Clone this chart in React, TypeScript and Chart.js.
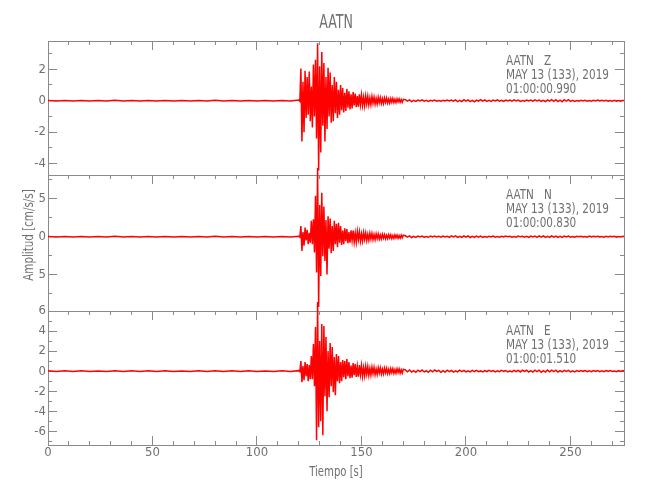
import React, { useEffect, useRef } from "react";
import { Chart, registerables } from "chart.js";

Chart.register(...registerables);

// ---------------- data ----------------
const STATION = "AATN";
const COMPONENTS = ["Z", "N", "E"];
const EVENT_DATE = "MAY 13 (133), 2019";
const START_TIMES = ["01:00:00.990", "01:00:00.830", "01:00:01.510"];
const X_TITLE = "Tiempo [s]";
const Y_TITLE = "Amplitud [cm/s/s]";

const X_RANGE = [0, 275.6];
const X_TICK_VALUES = [0, 50, 100, 150, 200, 250];
const X_TICK_LABELS = ["0", "50", "100", "150", "200", "250"];
const X_MAJOR_STEP = 50;
const X_MINOR_STEP = 10;

const Y_RANGES = [
  [-4.73, 3.8],
  [-9.83, 8.16],
  [-7.37, 6.0],
];
const Y_MAJOR_STEPS = [2, 5, 2];
const Y_MINOR_STEPS = [1, 2.5, 1];
const Z_TICK_VALUES = [-4, -2, 0, 2];
const Z_TICK_LABELS = ["-4", "-2", "0", "2"];
const N_TICK_VALUES = [-5, 0, 5];
const N_TICK_LABELS = ["5", "0", "5"];
const E_TICK_VALUES = [-6, -4, -2, 0, 2, 4, 6];
const E_TICK_LABELS = ["-6", "-4", "-2", "0", "2", "4", "6"];

// sampling grids (seconds)
const PRE_T0 = 0;
const PRE_DT = 4;
const ACTIVE_T0 = 120;
const ACTIVE_DT = 0.5;
const CODA_T0 = 171;
const CODA_DT = 1;

// pre-event noise (t = 0..116, every 4 s)
const Z_PRE = [0.02, -0.02, 0.02, -0.015, 0.02, -0.02, 0.015, -0.02, 0.025, -0.02, 0.02, -0.015, 0.02, -0.025, 0.02, -0.02, 0.015, -0.02, 0.02, -0.02, 0.025, -0.02, 0.02, -0.015, 0.02, -0.02, 0.015, -0.02, 0.02, -0.02];
const N_PRE = [0.04, -0.04, 0.04, -0.03, 0.04, -0.04, 0.03, -0.04, 0.05, -0.04, 0.04, -0.03, 0.04, -0.05, 0.04, -0.04, 0.03, -0.04, 0.04, -0.04, 0.05, -0.04, 0.04, -0.03, 0.04, -0.04, 0.03, -0.04, 0.04, -0.04];
const E_PRE = [0.03, -0.03, 0.03, -0.025, 0.03, -0.03, 0.025, -0.03, 0.035, -0.03, 0.03, -0.025, 0.03, -0.035, 0.03, -0.03, 0.025, -0.03, 0.03, -0.03, 0.035, -0.03, 0.03, -0.025, 0.03, -0.03, 0.025, -0.03, 0.03, -0.03];

// strong motion (t = 120..170, every 0.5 s), alternating peaks
const Z_ACTIVE = [
  0.04, -0.04, 2.05, -2.6, 1.2, -2.0, 1.9, -1.1, 1.5, -0.9,
  1.85, -1.3, 0.9, -1.7, 2.3, -1.0, 2.6, -2.4, 3.65, -4.45,
  2.2, -3.3, 3.1, -1.6, 2.4, -2.6, 1.5, -1.8, 2.1, -1.0,
  1.8, -1.4, 1.0, -1.3, 1.5, -0.8, 1.2, -1.1, 0.7, -0.9,
  1.0, -0.6, 0.8, -0.75, 0.5, -0.65, 0.75, -0.45, 0.6, -0.55,
  0.4, -0.5, 0.55, -0.3, 0.45, -0.42, 0.3, -0.38, 0.4, -0.25,
  0.35, -0.3, 0.22, -0.32, 0.3, -0.2, 0.28, -0.26, 0.18, -0.25,
  0.26, -0.16, 0.22, -0.22, 0.15, -0.2, 0.21, -0.14, 0.19, -0.18,
  0.12, -0.18, 0.17, -0.11, 0.16, -0.15, 0.1, -0.15, 0.14, -0.1,
  0.14, -0.12, 0.09, -0.12, 0.12, -0.08, 0.11, -0.1, 0.07, -0.1,
  0.09,
];
const N_ACTIVE = [
  0.06, -0.06, 1.4, -1.9, 0.6, -1.2, 1.2, -0.5, 0.9, -1.0,
  0.5, -0.8, 2.1, -1.0, 2.3, -2.1, 5.4, -4.75, 9.1, -9.3,
  4.2, -5.2, 5.8, -2.6, 4.0, -3.2, 2.2, -5.0, 2.7, -1.6,
  2.4, -2.2, 1.4, -1.9, 2.1, -1.0, 1.7, -1.4, 1.85, -0.8,
  1.4, -1.1, 0.8, -1.0, 1.1, -0.6, 1.0, -0.85, 0.6, -0.8,
  0.85, -0.5, 0.8, -0.7, 0.5, -0.68, 0.7, -0.4, 0.62, -0.58,
  0.4, -0.55, 0.55, -0.35, 0.5, -0.48, 0.32, -0.45, 0.45, -0.3,
  0.43, -0.4, 0.28, -0.38, 0.37, -0.25, 0.35, -0.33, 0.22, -0.3,
  0.3, -0.2, 0.28, -0.27, 0.18, -0.26, 0.26, -0.17, 0.25, -0.24,
  0.16, -0.23, 0.23, -0.15, 0.22, -0.21, 0.14, -0.2, 0.2, -0.14,
  0.19,
];
const E_ACTIVE = [
  0.05, -0.05, 1.0, -1.1, 0.5, -0.9, 0.9, -0.5, 0.7, -1.0,
  0.6, -0.8, 1.5, -0.8, 2.7, -1.5, 4.4, -6.9, 6.9, -5.6,
  3.0, -5.0, 4.7, -6.4, 4.5, -2.5, 3.4, -4.0, 2.0, -2.6,
  2.8, -1.5, 2.4, -2.1, 1.4, -2.4, 1.7, -1.0, 1.5, -1.2,
  0.9, -1.0, 1.1, -0.6, 1.0, -0.8, 1.2, -0.5, 0.9, -0.7,
  0.55, -0.65, 0.8, -0.4, 0.7, -0.58, 0.45, -0.55, 0.6, -0.35,
  0.55, -0.5, 0.35, -0.45, 0.48, -0.3, 0.45, -0.4, 0.28, -0.38,
  0.4, -0.24, 0.38, -0.34, 0.22, -0.32, 0.34, -0.2, 0.32, -0.28,
  0.2, -0.27, 0.29, -0.17, 0.28, -0.25, 0.17, -0.24, 0.26, -0.15,
  0.25, -0.22, 0.15, -0.22, 0.23, -0.14, 0.22, -0.2, 0.13, -0.2,
  0.2,
];

// coda (t = 171..276, every 1 s)
const Z_CODA = [
  0.07, -0.03, 0.05, -0.06, 0.02, -0.05, 0.04, -0.02, 0.05, -0.03,
  0.02, -0.04, 0.03, -0.01, 0.04, -0.03, 0.015, -0.035, 0.03, -0.02,
  0.035, -0.015, 0.04, -0.03, 0.05, -0.06, 0.025, -0.05, 0.065, -0.03,
  0.05, -0.06, 0.02, -0.065, 0.04, -0.03, 0.06, -0.025, 0.05, -0.04,
  0.02, -0.04, 0.035, -0.015, 0.05, -0.03, 0.02, -0.05, 0.035, -0.02,
  0.04, -0.025, 0.05, -0.02, 0.035, -0.04, 0.015, -0.035, 0.04, -0.02,
  0.035, -0.03, 0.05, -0.02, 0.04, -0.05, 0.025, -0.05, 0.055, -0.03,
  0.06, -0.035, 0.065, -0.06, 0.03, -0.065, 0.06, -0.03, 0.06, -0.04,
  0.03, -0.04, 0.015, -0.035, 0.03, -0.015, 0.03, -0.03, 0.01, -0.03,
  0.03, -0.015, 0.035, -0.02, 0.03, -0.01, 0.03, -0.025, 0.015, -0.03,
  0.02, -0.035, 0.01, -0.03, 0.025, -0.02,
];
const N_CODA = [
  0.12, -0.06, 0.1, -0.11, 0.04, -0.09, 0.08, -0.03, 0.09, -0.06,
  0.03, -0.08, 0.07, -0.02, 0.08, -0.05, 0.04, -0.07, 0.08, -0.03,
  0.06, -0.09, 0.1, -0.04, 0.1, -0.1, 0.05, -0.1, 0.11, -0.06,
  0.1, -0.11, 0.04, -0.1, 0.09, -0.05, 0.09, -0.08, 0.03, -0.08,
  0.06, -0.03, 0.07, -0.06, 0.02, -0.07, 0.05, -0.04, 0.07, -0.02,
  0.06, -0.07, 0.03, -0.06, 0.07, -0.02, 0.05, -0.07, 0.04, -0.08,
  0.08, -0.04, 0.07, -0.09, 0.1, -0.05, 0.1, -0.1, 0.05, -0.1,
  0.1, -0.05, 0.09, -0.09, 0.04, -0.09, 0.08, -0.04, 0.08, -0.07,
  0.03, -0.07, 0.06, -0.02, 0.06, -0.05, 0.03, -0.06, 0.07, -0.03,
  0.05, -0.02, 0.06, -0.05, 0.02, -0.06, 0.05, -0.03, 0.06, -0.02,
  0.04, -0.06, 0.03, -0.05, 0.06, -0.03,
];
const E_CODA = [
  0.12, -0.07, 0.11, -0.1, 0.05, -0.11, 0.09, -0.04, 0.11, -0.08,
  0.04, -0.11, 0.1, -0.06, 0.11, -0.03, 0.08, -0.11, 0.05, -0.1,
  0.09, -0.04, 0.08, -0.1, 0.03, -0.08, 0.09, -0.05, 0.07, -0.08,
  0.03, -0.07, 0.08, -0.04, 0.07, -0.06, 0.02, -0.07, 0.06, -0.04,
  0.07, -0.02, 0.06, -0.07, 0.04, -0.06, 0.07, -0.02, 0.05, -0.07,
  0.03, -0.08, 0.08, -0.04, 0.07, -0.08, 0.09, -0.03, 0.09, -0.1,
  0.05, -0.09, 0.1, -0.05, 0.1, -0.11, 0.04, -0.1, 0.11, -0.06,
  0.1, -0.04, 0.09, -0.1, 0.05, -0.08, 0.08, -0.03, 0.07, -0.07,
  0.02, -0.07, 0.06, -0.04, 0.06, -0.02, 0.05, -0.06, 0.03, -0.06,
  0.06, -0.02, 0.05, -0.05, 0.03, -0.06, 0.05, -0.02, 0.06, -0.04,
  0.02, -0.05, 0.06, -0.03, 0.05, -0.04,
];

// ---------------- style / layout ----------------
const FONT = '"DejaVu Sans Condensed", "Liberation Sans Narrow", "Liberation Sans", sans-serif';
const TEXT_COLOR = "#707070";
const AXIS_COLOR = "#8a8a8a";
const TRACE_COLOR = "#ff0000";
const TICK_FONT_SIZE = 13;
const MAJOR_LEN = 9;
const MINOR_LEN = 4.5;
const W = 650;
const H = 500;
const PLOT_LEFT = 48;
const PLOT_RIGHT = 624;
const PANEL_TOP = [41, 175, 311];
const PANEL_BOTTOM = [175, 311, 445];
const BOTTOM_AXIS_H = 40;

type Pt = { x: number; y: number };

function buildTrace(pre: number[], active: number[], coda: number[]): Pt[] {
  const pts: Pt[] = [];
  pre.forEach((v, i) => pts.push({ x: PRE_T0 + i * PRE_DT, y: v }));
  active.forEach((v, i) => pts.push({ x: ACTIVE_T0 + i * ACTIVE_DT, y: v }));
  coda.forEach((v, i) => pts.push({ x: CODA_T0 + i * CODA_DT, y: v }));
  return pts;
}

const TRACES = [
  buildTrace(Z_PRE, Z_ACTIVE, Z_CODA),
  buildTrace(N_PRE, N_ACTIVE, N_CODA),
  buildTrace(E_PRE, E_ACTIVE, E_CODA),
];
const Y_TICKS: [number[], string[]][] = [
  [Z_TICK_VALUES, Z_TICK_LABELS],
  [N_TICK_VALUES, N_TICK_LABELS],
  [E_TICK_VALUES, E_TICK_LABELS],
];

function isMajor(v: number, step: number) {
  const r = v / step;
  return Math.abs(r - Math.round(r)) < 1e-6;
}

function gridTicks(min: number, max: number, step: number) {
  const out: { value: number }[] = [];
  const a = Math.ceil(min / step - 1e-9);
  const b = Math.floor(max / step + 1e-9);
  for (let k = a; k <= b; k++) out.push({ value: +(k * step).toFixed(6) });
  return out;
}

function dashFor(position: string, majorStep: number) {
  return (ctx: any) => {
    const v = ctx.tick ? ctx.tick.value : 0;
    if (isMajor(v, majorStep)) return [];
    if (position === "bottom" || position === "right") return [MINOR_LEN + 0.5, 100];
    return [0, MAJOR_LEN + 0.5 - MINOR_LEN, MINOR_LEN + 1, 100];
  };
}

function labelFrom(values: number[], labels: string[]) {
  return (v: any) => {
    const idx = values.findIndex((t) => Math.abs(t - Number(v)) < 1e-6);
    return idx >= 0 ? labels[idx] : "";
  };
}

function xScale(position: "top" | "bottom", size: number, withTicks: boolean, withLabels: boolean) {
  return {
    type: "linear",
    position,
    min: X_RANGE[0],
    max: X_RANGE[1],
    bounds: "data",
    offset: false,
    afterBuildTicks: (s: any) => {
      s.ticks = gridTicks(X_RANGE[0], X_RANGE[1], X_MINOR_STEP);
    },
    afterFit: (s: any) => {
      s.height = size;
    },
    ticks: {
      display: withLabels,
      autoSkip: false,
      maxRotation: 0,
      minRotation: 0,
      padding: 9.2,
      color: TEXT_COLOR,
      font: { family: FONT, size: TICK_FONT_SIZE },
      callback: labelFrom(X_TICK_VALUES, X_TICK_LABELS),
    },
    grid: {
      display: true,
      drawOnChartArea: false,
      drawTicks: withTicks,
      tickLength: -MAJOR_LEN,
      tickColor: AXIS_COLOR,
      tickWidth: 1,
      tickBorderDash: dashFor(position, X_MAJOR_STEP),
    },
    border: { display: true, color: AXIS_COLOR, width: 1 },
    title: { display: false },
  };
}

function yScale(i: number, position: "left" | "right") {
  const [vals, labs] = Y_TICKS[i];
  const [mn, mx] = Y_RANGES[i];
  return {
    type: "linear",
    position,
    min: mn,
    max: mx,
    bounds: "data",
    afterBuildTicks: (s: any) => {
      s.ticks = gridTicks(mn, mx, Y_MINOR_STEPS[i]);
    },
    afterFit: (s: any) => {
      s.width = position === "left" ? PLOT_LEFT : 0;
    },
    ticks: {
      display: position === "left",
      autoSkip: false,
      padding: 11,
      color: TEXT_COLOR,
      font: { family: FONT, size: TICK_FONT_SIZE },
      callback: labelFrom(vals, labs),
    },
    grid: {
      display: true,
      drawOnChartArea: false,
      drawTicks: true,
      tickLength: -MAJOR_LEN,
      tickColor: AXIS_COLOR,
      tickWidth: 1,
      tickBorderDash: dashFor(position, Y_MAJOR_STEPS[i]),
    },
    border: { display: true, color: AXIS_COLOR, width: 1 },
  };
}

function squeezedText(ctx: any, text: string, x: number, y: number, sx: number, align: string, rot = 0) {
  ctx.save();
  ctx.translate(x, y);
  if (rot) ctx.rotate(rot);
  ctx.scale(sx, 1);
  ctx.textAlign = align;
  ctx.fillText(text, 0, 0);
  ctx.restore();
}

function textPlugin(i: number) {
  return {
    id: "panelText" + i,
    afterDraw(chart: any) {
      const { ctx, chartArea } = chart;
      ctx.save();
      ctx.fillStyle = TEXT_COLOR;
      ctx.font = `14px ${FONT}`;
      ctx.textBaseline = "middle";
      const lines = [`${STATION}   ${COMPONENTS[i]}`, EVENT_DATE, START_TIMES[i]];
      lines.forEach((ln, k) =>
        squeezedText(ctx, ln, chartArea.right - 118, chartArea.top + 20.7 + 14 * k, 0.83, "left")
      );
      const cx = (chartArea.left + chartArea.right) / 2;
      if (i === 0) {
        ctx.font = `20px ${FONT}`;
        squeezedText(ctx, STATION, cx, 22.5, 0.7, "center");
      }
      if (i === 1) {
        ctx.font = `14px ${FONT}`;
        squeezedText(ctx, Y_TITLE, 29, 235, 0.82, "center", -Math.PI / 2);
      }
      if (i === 2) {
        ctx.font = `14px ${FONT}`;
        squeezedText(ctx, X_TITLE, cx, 472.5, 0.8, "center");
      }
      ctx.restore();
    },
  };
}

function makeConfig(i: number): any {
  const last = i === 2;
  const bottomH = last ? BOTTOM_AXIS_H : 0;
  return {
    type: "line",
    data: {
      datasets: [
        {
          data: TRACES[i],
          borderColor: TRACE_COLOR,
          borderWidth: 1.5,
          pointRadius: 0,
          pointHoverRadius: 0,
          tension: 0,
          fill: false,
          clip: { left: 0, right: 0, top: false, bottom: false },
        },
      ],
    },
    options: {
      responsive: false,
      animation: false,
      devicePixelRatio: 1,
      events: [],
      layout: {
        padding: {
          left: 0,
          right: W - PLOT_RIGHT,
          top: PANEL_TOP[i],
          bottom: H - PANEL_BOTTOM[i] - bottomH,
        },
      },
      plugins: {
        legend: { display: false },
        tooltip: { enabled: false },
        title: { display: false },
      },
      scales: {
        x: xScale("bottom", bottomH, last, last),
        xTop: xScale("top", 0, true, false),
        y: yScale(i, "left"),
        yRight: yScale(i, "right"),
      },
    },
    plugins: [textPlugin(i)],
  };
}

export default function App() {
  const r0 = useRef<HTMLCanvasElement>(null);
  const r1 = useRef<HTMLCanvasElement>(null);
  const r2 = useRef<HTMLCanvasElement>(null);
  const refs = [r0, r1, r2];

  useEffect(() => {
    const charts = refs.map((r, i) => new Chart(r.current as HTMLCanvasElement, makeConfig(i)));
    return () => charts.forEach((c) => c.destroy());
  }, []);

  return (
    <div style={{ position: "fixed", left: 0, top: 0, width: W, height: H, background: "#ffffff" }}>
      {refs.map((r, i) => (
        <canvas
          key={i}
          ref={r}
          width={W}
          height={H}
          style={{ position: "absolute", left: 0, top: 0, width: W, height: H }}
        />
      ))}
    </div>
  );
}
